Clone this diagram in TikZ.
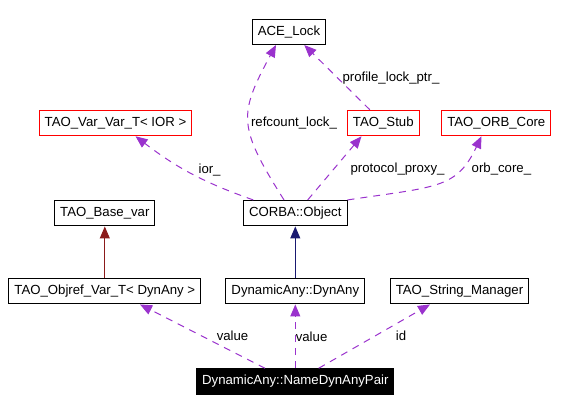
\documentclass[tikz,border=0pt]{standalone}
\usepackage{fontspec}
\setmainfont{Liberation Sans}
\usepackage{tikz}
\usetikzlibrary{shapes,arrows.meta}
\definecolor{usecol}{RGB}{154,50,205}
\definecolor{basecol}{RGB}{139,26,26}
\definecolor{objcol}{RGB}{25,25,112}
\newcommand{\boxfont}{\fontsize{13.2}{15}\selectfont}
\tikzstyle{block} = [rectangle, draw, line width=1pt, font=\boxfont,
inner xsep=5.5pt, minimum height=25.5pt]
\tikzstyle{redblock} = [block, draw=red]
\tikzstyle{mainblock} = [block, fill=black, text=white]
\tikzstyle{uses} = [draw=usecol, line width=1pt, dash pattern=on 7pt off 6pt,
-{Triangle[length=12pt,width=10pt]}]
\tikzstyle{isa} = [draw, line width=1pt, -{Triangle[length=12pt,width=10pt]}]
\tikzstyle{lbl} = [font=\boxfont, inner sep=0pt, text=black]

\begin{document}
\begin{tikzpicture}[x=1pt, y=1pt]
\useasboundingbox (0,0) rectangle (562,411);
% Place nodes
\node [mainblock] (pair) at (295.3,29.5) {DynamicAny::NameDynAnyPair};
\node [block, above of=pair, node distance=90.3pt] (dynany) {DynamicAny::DynAny};
\node [block, left of=dynany, node distance=190.5pt] (objref) {TAO\_Objref\_Var\_T< DynAny >};
\node [block, right of=dynany, node distance=164.2pt] (strmgr) {TAO\_String\_Manager};
\node [block, above of=dynany, node distance=78pt] (object) {CORBA::Object};
\node [block, above of=objref, node distance=78pt] (basevar) {TAO\_Base\_var};
\node [redblock, above of=basevar, node distance=90.2pt, xshift=10.7pt] (varvar) {TAO\_Var\_Var\_T< IOR >};
\node [redblock, right of=varvar, node distance=267.8pt] (stub) {TAO\_Stub};
\node [redblock, right of=stub, node distance=113pt] (orbcore) {TAO\_ORB\_Core};
\node [block, above of=object, node distance=181.4pt, xshift=-6.3pt] (acelock) {ACE\_Lock};
% Draw edges
\path [uses] ([xshift=-30.3pt]pair.north) -- node [lbl, pos=0.51, right=15pt] {value} ([xshift=35.2pt]objref.south);
\path [uses] (pair) -- node [lbl, pos=0.5, right=0pt] {value} (dynany);
\path [uses] ([xshift=23.4pt]pair.north) -- node [lbl, pos=0.51, right=20pt] {id} ([xshift=-29.5pt]strmgr.south);
\path [isa, draw=basecol] (objref) -- (basevar);
\path [isa, draw=objcol] (dynany) -- (object);
\path [uses] ([xshift=-42pt]object.north) to [bend left=9] node [lbl, pos=0.55, right=12pt] {ior\_} ([xshift=20pt]varvar.south);
\path [uses] ([xshift=-11.3pt]object.north) .. controls +(-46,73) and +(-38,-70) .. node [lbl, pos=0.49, right=2pt] {refcount\_lock\_} ([xshift=-13pt]acelock.south);
\path [uses] ([xshift=12.4pt]object.north) -- node [lbl, pos=0.49, right=16pt] {protocol\_proxy\_} ([xshift=-21.8pt]stub.south);
\path [uses] (object.north east) .. controls +(90,13.5) and +(-25,-52.5) .. node [lbl, pos=0.72, right=11pt] {orb\_core\_} ([xshift=-14.8pt]orbcore.south);
\path [uses] ([xshift=-13.5pt]stub.north) -- node [lbl, pos=0.485, right=4pt] {profile\_lock\_ptr\_} ([xshift=15.3pt]acelock.south);
\end{tikzpicture}
\end{document}
